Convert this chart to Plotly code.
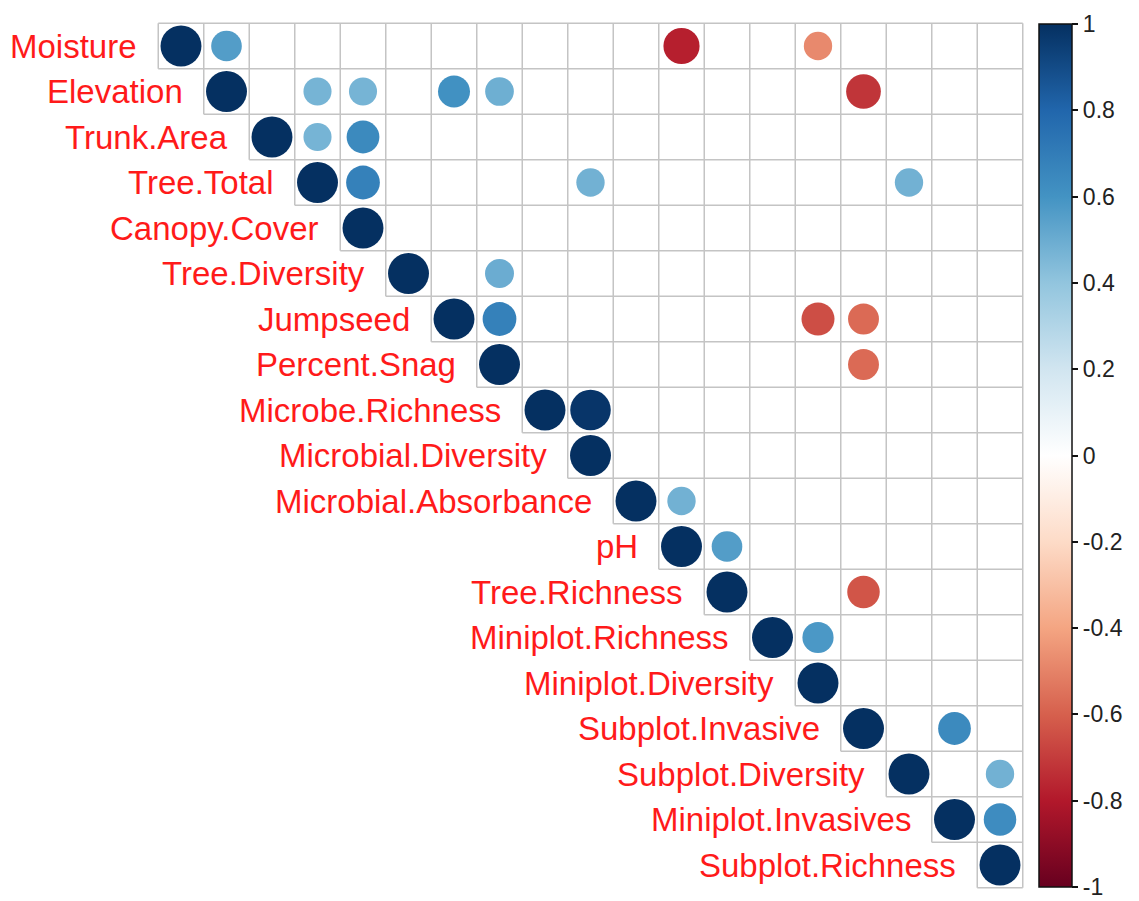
import plotly.graph_objects as go

# Variables in matrix order (rows top->bottom, columns left->right)
variables = [
    "Moisture", "Elevation", "Trunk.Area", "Tree.Total", "Canopy.Cover",
    "Tree.Diversity", "Jumpseed", "Percent.Snag", "Microbe.Richness",
    "Microbial.Diversity", "Microbial.Absorbance", "pH", "Tree.Richness",
    "Miniplot.Richness", "Miniplot.Diversity", "Subplot.Invasive",
    "Subplot.Diversity", "Miniplot.Invasives", "Subplot.Richness",
]

# Significant off-diagonal correlations (upper triangle)
pair_a = [
    "Moisture", "Moisture", "Moisture",
    "Elevation", "Elevation", "Elevation", "Elevation", "Elevation",
    "Trunk.Area", "Trunk.Area",
    "Tree.Total", "Tree.Total", "Tree.Total",
    "Tree.Diversity",
    "Jumpseed", "Jumpseed", "Jumpseed",
    "Percent.Snag",
    "Microbe.Richness",
    "Microbial.Absorbance",
    "pH",
    "Tree.Richness",
    "Miniplot.Richness",
    "Subplot.Invasive",
    "Subplot.Diversity",
    "Miniplot.Invasives",
]
pair_b = [
    "Elevation", "pH", "Miniplot.Diversity",
    "Tree.Total", "Canopy.Cover", "Jumpseed", "Percent.Snag", "Subplot.Invasive",
    "Tree.Total", "Canopy.Cover",
    "Canopy.Cover", "Microbial.Diversity", "Subplot.Diversity",
    "Percent.Snag",
    "Percent.Snag", "Miniplot.Diversity", "Subplot.Invasive",
    "Subplot.Invasive",
    "Microbial.Diversity",
    "pH",
    "Tree.Richness",
    "Subplot.Invasive",
    "Miniplot.Diversity",
    "Miniplot.Invasives",
    "Subplot.Richness",
    "Subplot.Richness",
]
pair_r = [
    0.56, -0.78, -0.48,
    0.47, 0.47, 0.61, 0.49, -0.72,
    0.47, 0.64,
    0.68, 0.48, 0.48,
    0.50,
    0.68, -0.65, -0.57,
    -0.57,
    0.98,
    0.48,
    0.56,
    -0.63,
    0.58,
    0.64,
    0.48,
    0.63,
]

colorbar_ticks = [1, 0.8, 0.6, 0.4, 0.2, 0, -0.2, -0.4, -0.6, -0.8, -1]

# RdBu diverging palette (dark red -> white -> dark blue)
palette = ["#67001F", "#B2182B", "#D6604D", "#F4A582", "#FDDBC7", "#FFFFFF",
           "#D1E5F0", "#92C5DE", "#4393C3", "#2166AC", "#053061"]
colorscale = [[k / (len(palette) - 1), c] for k, c in enumerate(palette)]

W, H = 1139, 901
CELL = 45.5          # pixel size of one matrix cell
X0_PX, Y0_PX = 181.0, 46.0  # pixel centre of the first cell
n = len(variables)
idx = {v: k for k, v in enumerate(variables)}

# collect circles: diagonal plus listed pairs
xs, ys, rs = [], [], []
for k in range(n):
    xs.append(k); ys.append(k); rs.append(1.0)
for a, b, r in zip(pair_a, pair_b, pair_r):
    i, j = idx[a], idx[b]
    xs.append(j); ys.append(i); rs.append(r)

max_diam = 2 * 0.45 * CELL
sizes = [max_diam * abs(r) ** 0.5 for r in rs]

# grid outline of the upper triangle
gx, gy = [], []
for k in range(n + 1):
    left = max(k - 1, 0)
    gx += [left - 0.5, n - 0.5, None]
    gy += [k - 0.5, k - 0.5, None]
for c in range(n + 1):
    bottom = min(c, n - 1)
    gx += [c - 0.5, c - 0.5, None]
    gy += [-0.5, bottom + 0.5, None]

fig = go.Figure()
fig.add_trace(go.Scatter(
    x=gx, y=gy, mode="lines",
    line=dict(color="#C4C4C4", width=1.5),
    hoverinfo="skip", showlegend=False,
))
fig.add_trace(go.Scatter(
    x=xs, y=ys, mode="markers",
    marker=dict(
        size=sizes, color=rs, cmin=-1, cmax=1, colorscale=colorscale,
        opacity=1,
        line=dict(width=0),
        showscale=True,
        colorbar=dict(
            thickness=33, thicknessmode="pixels",
            len=863, lenmode="pixels",
            x=1039 / W, xanchor="left", xpad=0,
            y=1 - 455.5 / H, yanchor="middle", ypad=0,
            outlinecolor="#111111", outlinewidth=1.5,
            tickvals=colorbar_ticks,
            ticktext=[f"{t:g}" for t in colorbar_ticks],
            ticks="outside", ticklen=6, tickwidth=1.5, tickcolor="#111111",
            tickfont=dict(family="Liberation Sans, Arial", size=23, color="#222222"),
        ),
    ),
    hoverinfo="skip", showlegend=False,
))

# row labels, right-aligned just left of the diagonal cell
for k, name in enumerate(variables):
    fig.add_annotation(
        x=k - 0.5 - 0.42, y=k, text=name, showarrow=False,
        xanchor="right", yanchor="middle",
        font=dict(family="Liberation Sans, Arial", size=33, color="#FF1A1A"),
    )

fig.update_layout(
    width=W, height=H,
    margin=dict(l=0, r=0, t=0, b=0),
    paper_bgcolor="white", plot_bgcolor="white",
    xaxis=dict(range=[-X0_PX / CELL, (W - X0_PX) / CELL], visible=False, fixedrange=True),
    yaxis=dict(range=[(H - Y0_PX) / CELL, -Y0_PX / CELL], visible=False, fixedrange=True),
)

fig.write_html("out.html")
